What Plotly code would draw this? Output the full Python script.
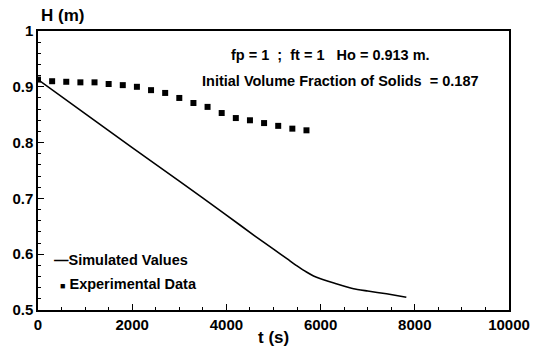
import plotly.graph_objects as go

# Experimental data
exp_t = [0, 300, 600, 900, 1200, 1500, 1800, 2100, 2400, 2700, 3000, 3300,
         3600, 3900, 4200, 4500, 4800, 5100, 5400, 5700]
exp_h = [0.913, 0.910, 0.909, 0.908, 0.908, 0.905, 0.903, 0.900, 0.894, 0.889,
         0.880, 0.871, 0.864, 0.853, 0.844, 0.840, 0.835, 0.830, 0.825, 0.822]

# Simulated values
sim_t = [0, 1000, 2000, 3000, 4000, 4600, 5000, 5300, 5500, 5700, 5850, 6000,
         6300, 6700, 7000, 7400, 7820]
sim_h = [0.913, 0.852, 0.791, 0.731, 0.670, 0.633, 0.609, 0.591, 0.579, 0.568, 0.561, 0.556,
         0.548, 0.538, 0.534, 0.529, 0.523]

x_ticks = [0, 2000, 4000, 6000, 8000, 10000]
y_ticks = [0.5, 0.6, 0.7, 0.8, 0.9, 1]
y_tick_labels = ["0.5", "0.6", "0.7", "0.8", "0.9", "1"]

FONT = "Liberation Sans, Arial, Helvetica, sans-serif"

fig = go.Figure()
fig.add_trace(go.Scatter(x=sim_t, y=sim_h, mode="lines",
                         line=dict(color="black", width=1.6, shape="spline", smoothing=0.5),
                         name="Simulated Values", showlegend=False))
fig.add_trace(go.Scatter(x=exp_t, y=exp_h, mode="markers",
                         marker=dict(symbol="square", size=6, color="black"),
                         name="Experimental Data", showlegend=False))

axis_common = dict(showline=True, linecolor="black", linewidth=1.5, mirror=True,
                   ticks="inside", tickcolor="black", tickwidth=1, ticklen=6,
                   showgrid=False, zeroline=False, ticklabeloverflow="allow",
                   tickfont=dict(family=FONT, size=15, color="black", weight="bold"))

fig.update_xaxes(range=[0, 10000], tickvals=x_ticks, ticktext=[str(v) for v in x_ticks],
                 minor=dict(dtick=500, ticks="inside", ticklen=3, tickcolor="black"),
                 **axis_common)
fig.update_yaxes(range=[0.5, 1], tickvals=y_ticks, ticktext=y_tick_labels,
                 minor=dict(dtick=0.02, ticks="inside", ticklen=3, tickcolor="black"),
                 **axis_common)

def txt(x, y, s, size=14.5, xanchor="left", xref="x", yref="y"):
    fig.add_annotation(x=x, y=y, xref=xref, yref=yref, text=s, showarrow=False,
                       xanchor=xanchor, yanchor="middle",
                       font=dict(family=FONT, size=size, color="black", weight="bold"))

txt(4050, 0.957, "fp = 1  ;  ft = 1   Ho = 0.913 m.")
txt(3440, 0.911, "Initial Volume Fraction of Solids  = 0.187")
txt(300, 0.590, "—Simulated Values")
txt(420, 0.546, "<span style='font-size:9px'>■</span> Experimental Data")
# axis titles
fig.add_annotation(x=0.003, y=1.055, xref="paper", yref="paper", text="H (m)",
                   showarrow=False, xanchor="left", yanchor="middle",
                   font=dict(family=FONT, size=17, color="black", weight="bold"))
fig.add_annotation(x=0.5, y=-0.1, xref="paper", yref="paper", text="t (s)",
                   showarrow=False, xanchor="center", yanchor="middle",
                   font=dict(family=FONT, size=17, color="black", weight="bold"))

fig.update_layout(width=542, height=354, margin=dict(l=36, r=20, t=31, b=44),
                  plot_bgcolor="white", paper_bgcolor="white", showlegend=False)

fig.write_html("out.html")
